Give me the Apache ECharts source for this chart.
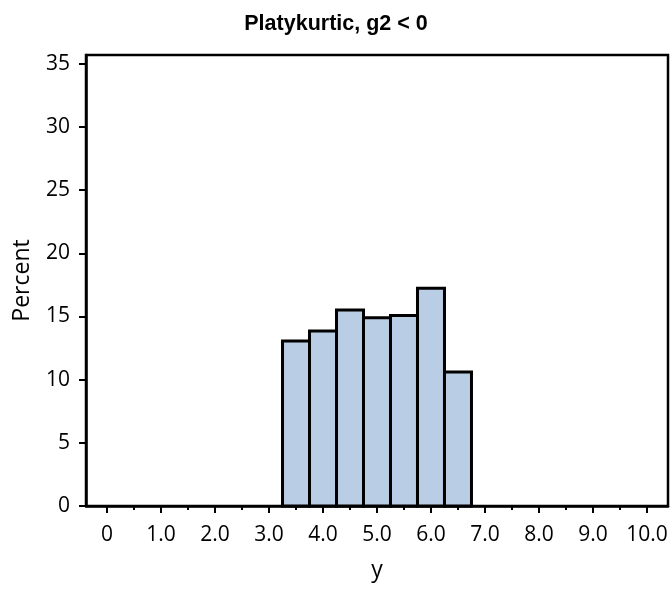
<!DOCTYPE html>
<html>
<head>
<meta charset="utf-8">
<script src="https://cdn.jsdelivr.net/npm/echarts@6/dist/echarts.min.js"></script>
<style>html,body{margin:0;padding:0;background:#fff}#c{width:672px;height:590px}</style>
</head>
<body>
<div id="c"></div>
<script>
const titleText = 'Platykurtic, g2 < 0';
const binCenters = [3.5, 4.0, 4.5, 5.0, 5.5, 6.0, 6.5];
const percents = [13.06, 13.86, 15.52, 14.91, 15.07, 17.24, 10.61];
const binWidth = 0.5;
const xMajorTicks = [0, 1, 2, 3, 4, 5, 6, 7, 8, 9, 10];
const xMinorTicks = [0.5, 1.5, 2.5, 3.5, 4.5, 5.5, 6.5, 7.5, 8.5, 9.5];
const yTicks = [0, 5, 10, 15, 20, 25, 30, 35];

const chart = echarts.init(document.getElementById('c'));
const labelFont = { fontFamily: 'Open Sans', fontSize: 21, color: '#000' };
const xMin = -0.39, xMax = 10.39, yMax = 35.7;
chart.setOption({
  animation: false,
  title: {
    text: titleText, left: 'center', top: 8,
    textStyle: { fontFamily: 'Liberation Sans', fontWeight: 'bold', fontSize: 21.5, color: '#000' }
  },
  grid: { left: 86, right: 4, top: 55, bottom: 84, show: true, borderColor: '#000', borderWidth: 2.5, backgroundColor: 'transparent' },
  xAxis: [{
    type: 'value', min: xMin, max: xMax,
    name: 'y', nameLocation: 'middle', nameGap: 53,
    nameTextStyle: { fontFamily: 'Open Sans', fontSize: 23, color: '#000' },
    axisLine: { show: true, onZero: false, lineStyle: { color: '#000', width: 2.5 } },
    axisTick: { show: true, length: 7, lineStyle: { color: '#000', width: 2 }, customValues: xMajorTicks },
    axisLabel: Object.assign({ margin: 19, customValues: xMajorTicks,
      formatter: v => v === 0 ? '0' : v.toFixed(1) }, labelFont),
    splitLine: { show: false }
  }, {
    type: 'value', min: xMin, max: xMax, position: 'bottom',
    axisLine: { show: false },
    axisTick: { show: true, length: 4, lineStyle: { color: '#000', width: 2 }, customValues: xMinorTicks },
    axisLabel: { show: false },
    splitLine: { show: false }
  }],
  yAxis: {
    type: 'value', min: 0, max: yMax,
    name: 'Percent', nameLocation: 'middle', nameGap: 52,
    nameTextStyle: { fontFamily: 'Open Sans', fontSize: 23, color: '#000' },
    axisLine: { show: true, onZero: false, lineStyle: { color: '#000', width: 2.5 } },
    axisTick: { show: true, length: 7, lineStyle: { color: '#000', width: 2 }, customValues: yTicks },
    axisLabel: Object.assign({ margin: 16, customValues: yTicks }, labelFont),
    splitLine: { show: false }
  },
  series: [{
    type: 'custom',
    xAxisIndex: 0,
    data: binCenters.map((c, i) => [c, percents[i]]),
    renderItem: function (params, api) {
      const c = api.value(0), v = api.value(1);
      const p0 = api.coord([c - binWidth / 2, v]);
      const p1 = api.coord([c + binWidth / 2, 0]);
      return {
        type: 'rect',
        shape: { x: p0[0], y: p0[1], width: p1[0] - p0[0], height: p1[1] - p0[1] },
        style: { fill: '#B9CDE5', stroke: '#000', lineWidth: 3 }
      };
    }
  }]
});
</script>
</body>
</html>
